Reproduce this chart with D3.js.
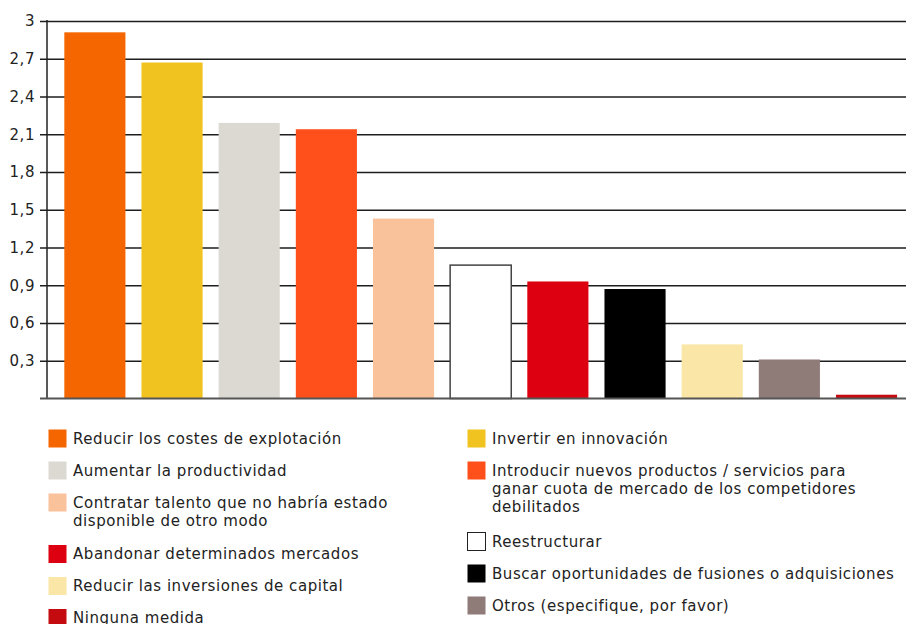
<!DOCTYPE html>
<html>
<head>
<meta charset="utf-8">
<script src="https://cdn.jsdelivr.net/npm/d3@7"></script>
<style>
  body { margin: 0; background: #fff; }
  text { font-family: Verdana, "DejaVu Sans", sans-serif; fill: #222; letter-spacing: 0.55px; }
</style>
</head>
<body>
<div id="chart"></div>
<script>
var categories = [
    "Reducir los costes de explotación",
    "Invertir en innovación",
    "Aumentar la productividad",
    "Introducir nuevos productos / servicios para\nganar cuota de mercado de los competidores\ndebilitados",
    "Contratar talento que no habría estado\ndisponible de otro modo",
    "Reestructurar",
    "Abandonar determinados mercados",
    "Buscar oportunidades de fusiones o adquisiciones",
    "Reducir las inversiones de capital",
    "Otros (especifique, por favor)",
    "Ninguna medida"
];
var values = [2.91, 2.67, 2.19, 2.14, 1.43, 1.06, 0.93, 0.87, 0.43, 0.31, 0.03];
var colors = ["#F56600", "#F0C320", "#DCD9D2", "#FF4F1B", "#FAC29B", "#FFFFFF",
              "#DD0010", "#000000", "#FAE6A6", "#8F7B78", "#C40C10"];
var yTicks = [0.3, 0.6, 0.9, 1.2, 1.5, 1.8, 2.1, 2.4, 2.7, 3];

var width = 906, height = 624;

var svg = d3.select("#chart").append("svg")
    .attr("width", width)
    .attr("height", height);

var x = d3.scaleBand()
    .domain(d3.range(categories.length))
    .range([47, 906])
    .paddingInner(0.208)
    .paddingOuter(0.17)
    .align(0.66);

var y = d3.scaleLinear()
    .domain([0, 3])
    .range([398.5, 21]);

var fmt = function(d) { return d3.format(".1~f")(d).replace(".", ","); };

// grid lines + ticks
var yAxis = d3.axisLeft(y)
    .tickValues(yTicks)
    .tickSize(-(906 - 47))
    .tickPadding(12)
    .tickFormat(fmt);

var gAxis = svg.append("g")
    .attr("transform", "translate(47,0)")
    .call(yAxis);
gAxis.select(".domain").remove();
gAxis.selectAll(".tick line")
    .attr("x1", -7)
    .attr("stroke", "#1e1e1e")
    .attr("stroke-width", 1.5);
gAxis.selectAll(".tick text")
    .attr("x", -12)
    .style("font-size", "15px")
    .style("font-family", "Verdana, 'DejaVu Sans', sans-serif")
    .attr("fill", "#222");

// bars
svg.selectAll(".bar")
    .data(values)
    .enter().append("rect")
    .attr("class", "bar")
    .attr("x", function(d, i) { return x(i); })
    .attr("y", function(d) { return y(d); })
    .attr("width", x.bandwidth())
    .attr("height", function(d) { return y(0) - y(d); })
    .attr("fill", function(d, i) { return colors[i]; })
    .attr("stroke", function(d, i) { return colors[i] == "#FFFFFF" ? "#444" : "none"; })
    .attr("stroke-width", 1.5);

// y axis line and baseline
svg.append("line")
    .attr("x1", 47).attr("x2", 47)
    .attr("y1", y(3) - 1).attr("y2", y(0))
    .attr("stroke", "#222")
    .attr("stroke-width", 1.5);
svg.append("line")
    .attr("x1", 40).attr("x2", 906)
    .attr("y1", y(0)).attr("y2", y(0))
    .attr("stroke", "#555")
    .attr("stroke-width", 2);

// legend, two columns stacked separately
var colX = [48, 467];
var colY = [429, 429];
categories.forEach(function(label, i) {
    var c = i % 2;
    var lines = label.split("\n");
    var g = svg.append("g")
        .attr("transform", "translate(" + colX[c] + "," + colY[c] + ")");
    g.append("rect")
        .attr("x", 0.5).attr("y", 0.5)
        .attr("width", 18).attr("height", 18)
        .attr("fill", colors[i])
        .attr("stroke", colors[i] == "#FFFFFF" ? "#222" : "none")
        .attr("stroke-width", 1);
    var t = g.append("text")
        .attr("x", 25)
        .attr("y", 14.5)
        .style("font-size", "15px");
    lines.forEach(function(l, k) {
        t.append("tspan")
            .attr("x", 25)
            .attr("dy", k == 0 ? 0 : 18)
            .text(l);
    });
    colY[c] += 32 + (lines.length - 1) * 19.5;
});
</script>
</body>
</html>
